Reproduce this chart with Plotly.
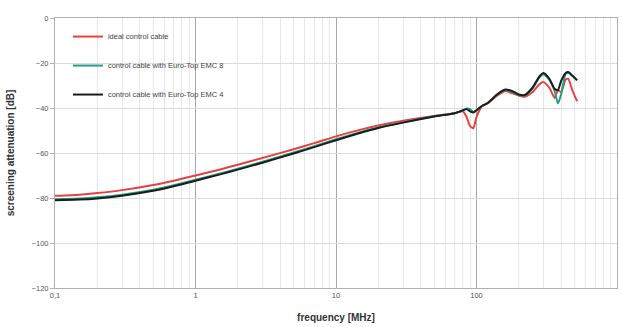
import plotly.graph_objects as go

freq = [0.1, 0.15, 0.2, 0.3, 0.5, 0.7, 1, 1.5, 2, 3, 5, 7, 10, 15, 20, 30, 50, 70,
        80, 85, 90, 95, 100, 110, 120, 140, 160, 180, 200, 220, 250, 280, 300, 330,
        360, 380, 400, 430, 450, 480, 520]

ideal = [-79, -78.5, -77.8, -76.5, -74.2, -72.3, -70, -67.3, -65.2, -62.2, -58.3, -55.6,
         -52.6, -49.6, -47.8, -45.7, -43.5, -42.3, -41.5, -44, -48, -49, -44, -39, -38,
         -34.5, -32.5, -33.5, -34.5, -35, -33, -29.5, -28.5, -31, -35.5, -32, -33, -27.5,
         -27, -32, -37]

emc8 = [-80.5, -80.2, -79.7, -78.5, -76.3, -74.3, -71.9, -69.1, -67, -63.9, -59.8, -57,
        -53.9, -50.7, -48.7, -46.3, -43.7, -42.3, -41.2, -40.2, -40.5, -41.8, -41, -39,
        -37.8, -34, -32, -32.8, -34.2, -34.5, -31.5, -26.5, -25, -27.5, -32.5, -38, -34,
        -25, -24.3, -25.8, -27.8]

emc4 = [-81, -80.7, -80.2, -79, -76.8, -74.8, -72.3, -69.5, -67.4, -64.3, -60.2, -57.4,
        -54.3, -51, -48.9, -46.5, -43.8, -42.3, -41, -40.5, -41.5, -42, -41, -39, -37.8,
        -34, -31.8, -32.5, -34, -34.2, -31, -26, -24.4, -27, -31.5, -32, -28, -24.5, -24,
        -25.5, -27.6]

names = ["ideal control cable", "control cable with Euro-Top EMC 8",
         "control cable with Euro-Top EMC 4"]
colors = ["#e8403f", "#1fa085", "#1c1c1c"]

x_ticks = [0.1, 1, 10, 100, 1000]
x_labels = ["0,1", "1", "10", "100", "1000"]
y_ticks = [0, -20, -40, -60, -80, -100, -120]

fig = go.Figure()
for i, (vals, name, col) in enumerate(zip([ideal, emc8, emc4], names, colors)):
    fig.add_trace(go.Scatter(x=freq, y=vals, mode="lines", name=name,
                             line=dict(color=col, width=2, shape="spline", smoothing=0.6),
                             legendgroup=str(i)))

fig.update_layout(
    width=622, height=327,
    margin=dict(l=55, r=5, t=18, b=39),
    paper_bgcolor="white", plot_bgcolor="white",
    font=dict(family="Liberation Sans, Arial, sans-serif", size=8, color="#555"),
    legend=dict(x=0.023, y=0.985, xanchor="left", yanchor="top",
                bgcolor="rgba(255,255,255,0)", font=dict(size=7.5, color="#444"),
                tracegroupgap=10, itemwidth=30),
    showlegend=True,
)
fig.update_xaxes(type="log", range=[-1, 3], tickvals=x_ticks, ticktext=x_labels,
                 automargin=False,
                 showgrid=True, gridcolor="#a8a8a8", gridwidth=1,
                 minor=dict(showgrid=True, gridcolor="#e6e6e6", dtick="D1"),
                 showline=True, linecolor="#b0b0b0", mirror=True,
                 ticks="", tickfont=dict(size=7.5, color="#555"),
                 title=dict(text="<b>frequency [MHz]</b>", standoff=14,
                            font=dict(size=10, color="#333")))
fig.update_yaxes(range=[-120, 0], tickvals=y_ticks, automargin=False,
                 showgrid=True, gridcolor="#dcdcdc", gridwidth=1,
                 showline=True, linecolor="#b0b0b0", mirror=True,
                 ticks="outside", ticklen=4, tickcolor="#b0b0b0",
                 tickfont=dict(size=7.5, color="#555"), zeroline=False,
                 title=dict(text="<b>screening attenuation [dB]</b>", standoff=15,
                            font=dict(size=10, color="#333")))

fig.write_html("out.html", config={"displayModeBar": False},
               post_script="document.body.style.margin='0';")
